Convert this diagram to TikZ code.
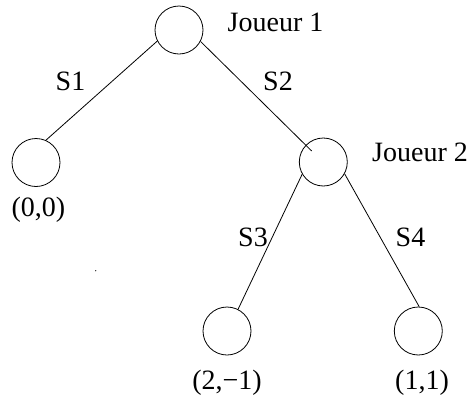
\documentclass[tikz,border=0pt]{standalone}
\usepackage{fontspec}
\setmainfont{Liberation Serif}
\begin{document}
\begin{tikzpicture}[x=1pt,y=-1pt,
  state/.style={draw,circle,minimum size=48pt,inner sep=0pt,line width=0.8pt},
  lbl/.style={anchor=base,inner sep=0pt,font=\fontsize{28}{32}\selectfont},
  edge/.style={line width=0.8pt}]
\useasboundingbox (0,0) rectangle (472,400);
\node[state] (root) at (179,30) {};
\node[state] (left) at (36,162.5) {};
\node[state] (p2) at (323.3,162) {};
\node[state] (b1) at (227,331) {};
\node[state] (b2) at (418.3,331) {};
\coordinate (e2) at (311.7,151);
\node[lbl] (j1) at (275.5,31) {Joueur 1};
\node[lbl] (j2) at (420,161) {Joueur 2};
\node[lbl] (s1) at (70.5,90) {S1};
\node[lbl] (s2) at (278,90) {S2};
\node[lbl] (s3) at (253,246) {S3};
\node[lbl] (s4) at (410.5,246) {S4};
\node[lbl] (g0) at (38.5,216.5) {(0,0)};
\node[lbl] (g1) at (227,389) {(2,−1)};
\node[lbl] (g2) at (422,389) {(1,1)};
\fill (95.7,270.7) circle (0.6pt);
\draw[edge] (root.207) -- (left.66);
\draw[edge] (root.-28) -- (e2);
\draw[edge] (p2.210) -- (b1.63);
\draw[edge] (p2.-29) -- (b2.88);
\end{tikzpicture}
\end{document}
